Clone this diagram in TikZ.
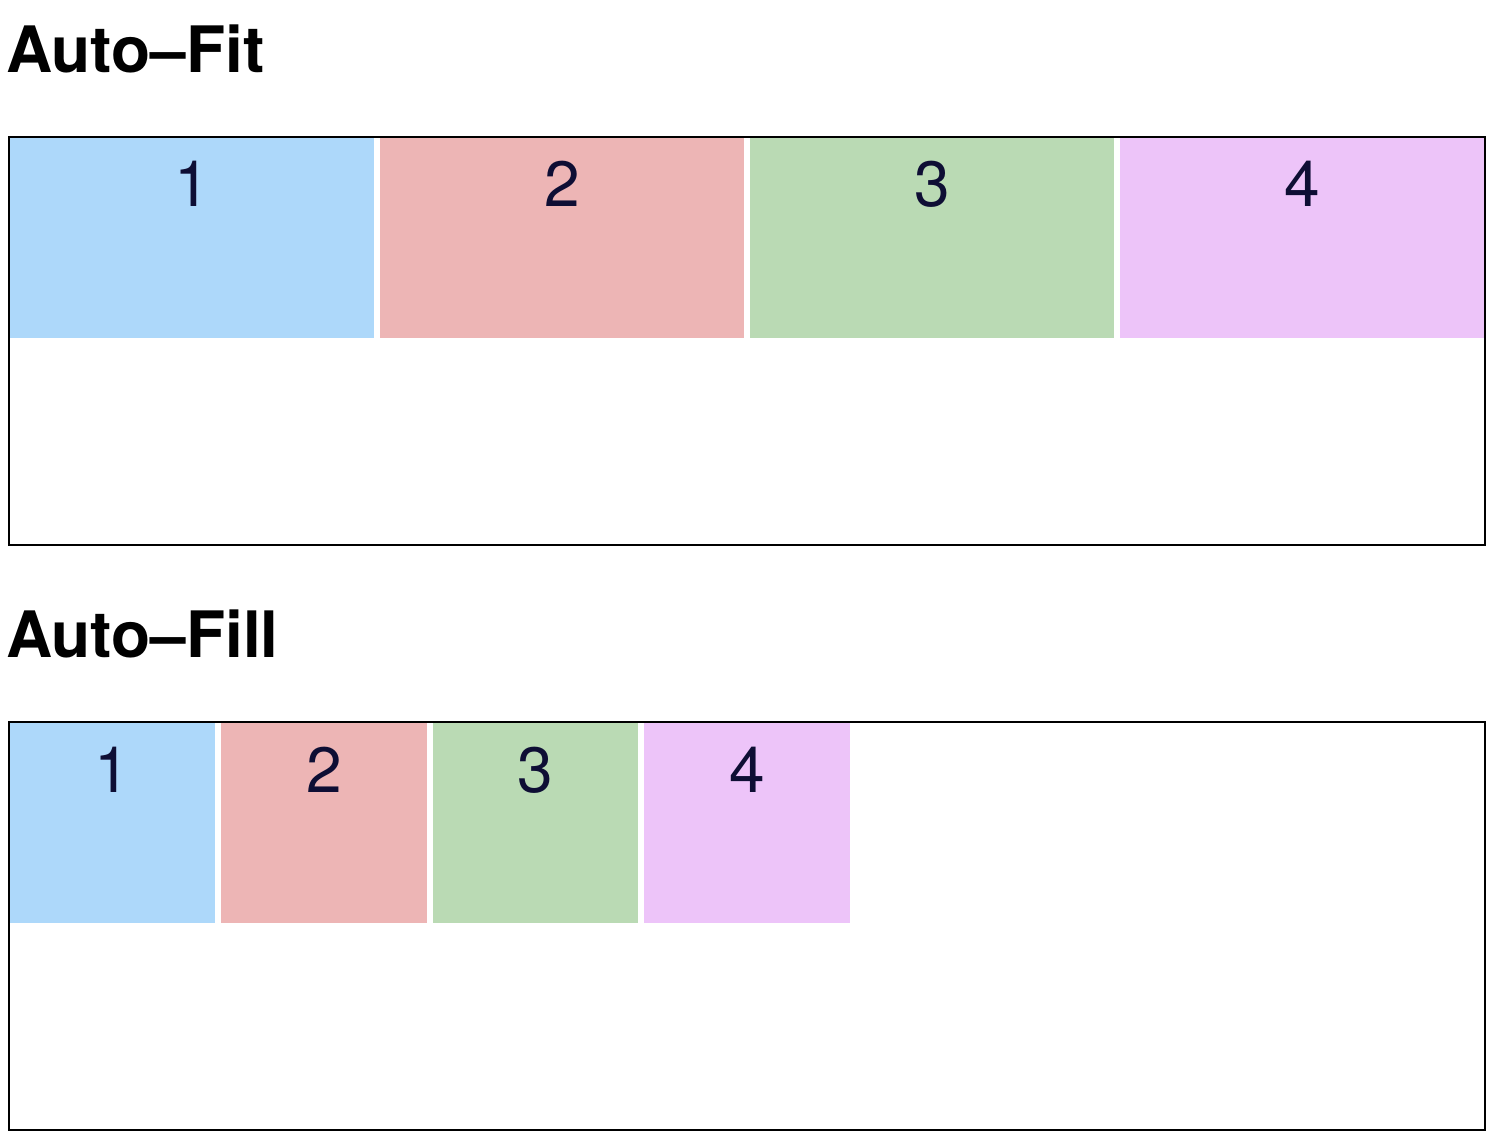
\documentclass[tikz,border=0pt]{standalone}
\usepackage{fontspec}
\setmainfont{TeX Gyre Heros}
\definecolor{cblue}{RGB}{173,216,250}
\definecolor{cpink}{RGB}{237,181,181}
\definecolor{cgreen}{RGB}{186,218,180}
\definecolor{cpurple}{RGB}{237,196,249}
\definecolor{ctext}{RGB}{14,14,52}
\begin{document}
\begin{tikzpicture}[x=1pt,y=-1pt,
  cell/.style={inner sep=0pt,outer sep=0pt,draw=none},
  num/.style={anchor=base,inner sep=0pt,text=ctext,font=\fontsize{64}{64}\selectfont},
  title/.style={anchor=base west,inner sep=0pt,font=\fontsize{64}{64}\selectfont\bfseries},
  frame/.style={draw=black,line width=2pt}]
\useasboundingbox (0,0) rectangle (1496,1148);
% titles
\node[title] (t1) at (6,72) {Auto–Fit};
\node[title] (t2) at (6,657) {Auto–Fill};
% auto-fit
\fill[cblue]   (10,138) rectangle (374,338);
\fill[cpink]   (380,138) rectangle (744,338);
\fill[cgreen]  (750,138) rectangle (1114,338);
\fill[cpurple] (1120,138) rectangle (1484,338);
\node[num] (a1) at (192,206) {1};
\node[num] (a2) at (562,206) {2};
\node[num] (a3) at (932,206) {3};
\node[num] (a4) at (1302,206) {4};
\draw[frame] (9,137) rectangle (1485,545);
% auto-fill
\fill[cblue]   (10,723) rectangle (215,923);
\fill[cpink]   (221,723) rectangle (427,923);
\fill[cgreen]  (433,723) rectangle (638,923);
\fill[cpurple] (644,723) rectangle (850,923);
\node[num] (b1) at (112.5,792) {1};
\node[num] (b2) at (324,792) {2};
\node[num] (b3) at (535.5,792) {3};
\node[num] (b4) at (747,792) {4};
\draw[frame] (9,722) rectangle (1485,1130);
\end{tikzpicture}
\end{document}
